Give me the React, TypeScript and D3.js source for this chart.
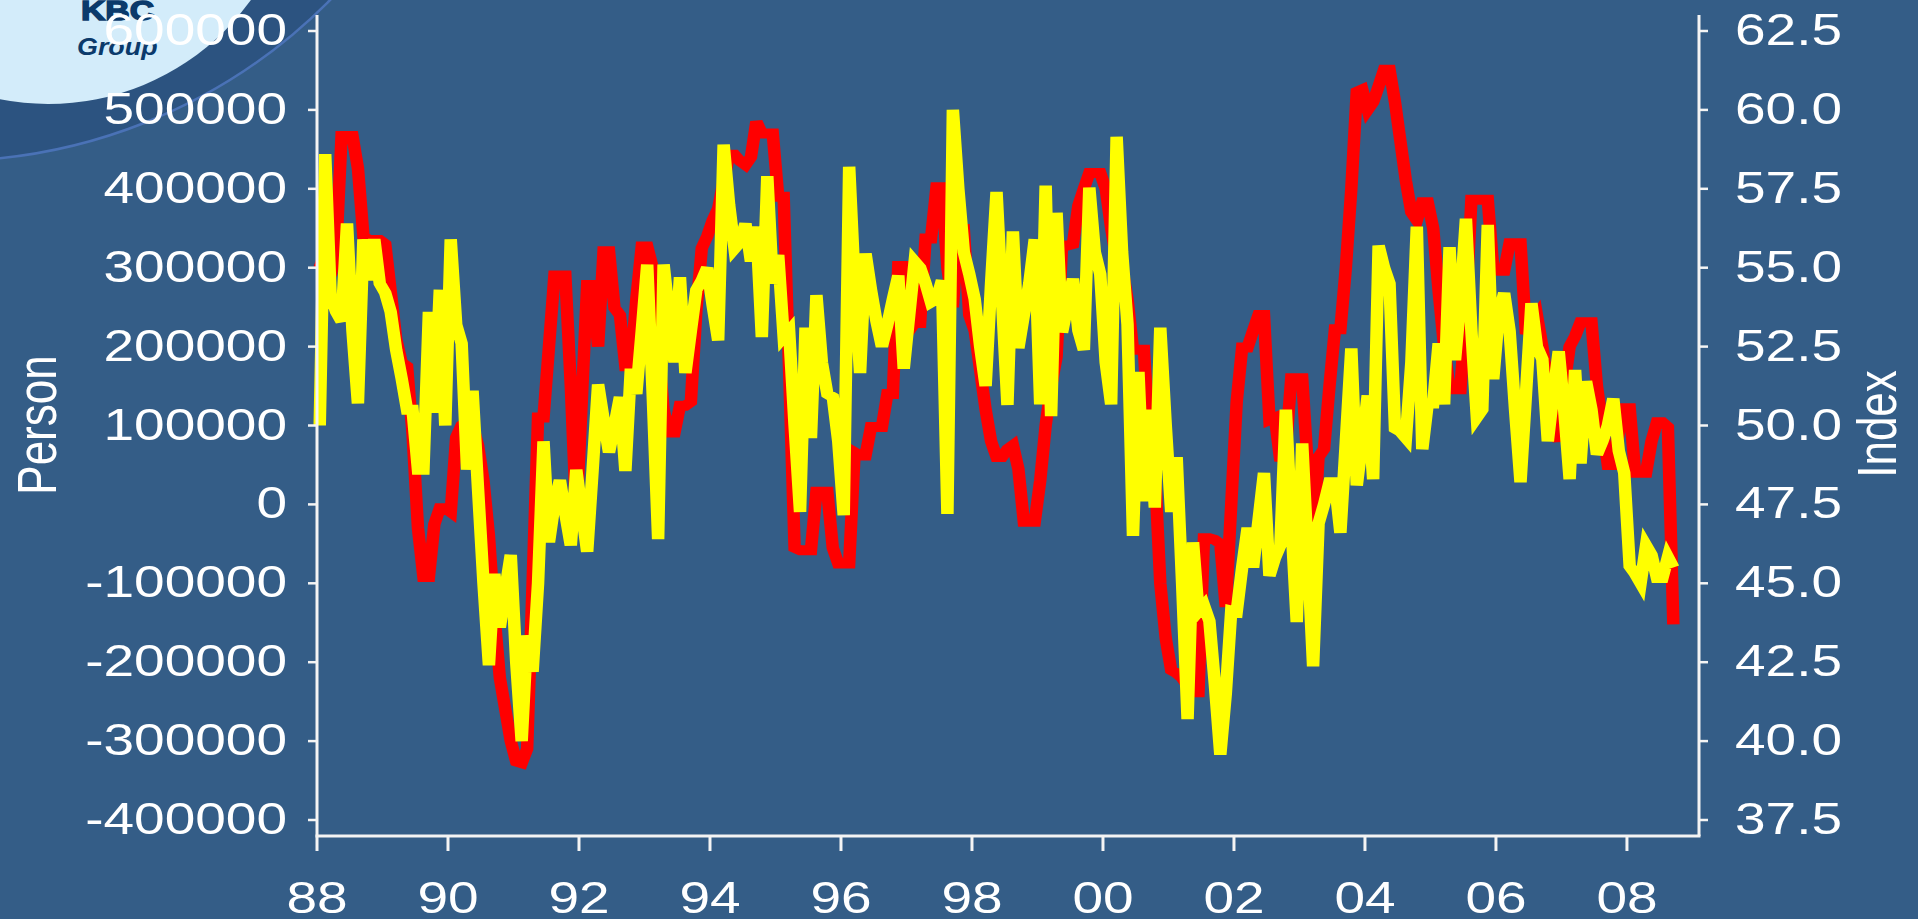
import React from 'react';
import * as d3 from 'd3';

const W = 1918;
const H = 919;
const SX = 1.25; // horizontal stretch of the original picture

// Monthly change in payrolls (thousand persons), Jan 1988 .. Sep 2008
const payrollsK = [
  300, 320, 290, 320, 467, 467, 467, 426, 340, 335, 335, 335,
  330, 270, 210, 180, 175, 90, -30, -92, -92, -25, -5, -5,
  -10, 85, 100, 105, 100, 75, 30, -40, -140, -220, -260, -300,
  -326, -328, -310, -100, 110, 110, 200, 290, 290, 290, 150, -15,
  130, 278, 278, 200, 321, 321, 249, 240, 175, 175, 260, 327,
  327, 300, 200, 120, 91, 91, 125, 125, 130, 245, 325, 340,
  360, 375, 410, 443, 443, 435, 430, 440, 485, 470, 470, 470,
  390, 390, 170, -55, -58, -58, -58, 16, 16, 16, -55, -75,
  -75, -75, 66, 62, 62, 98, 98, 98, 140, 140, 302, 302,
  220, 230, 230, 337, 337, 402, 402, 300, 250, 349, 349, 240,
  220, 170, 120, 80, 60, 60, 70, 75, 45, -22, -22, -22,
  30, 100, 150, 187, 328, 328, 330, 379, 400, 420, 420, 420,
  400, 350, 310, 300, 260, 196, 196, 196, 80, 45, -100, -170,
  -210, -214, -220, -230, -238, -238, -43, -43, -45, -50, -130, 0,
  130, 199, 199, 220, 240, 240, 107, 110, 55, 70, 160, 160,
  160, 50, -49, 60, 70, 150, 222, 222, 300, 400, 523, 526,
  500, 510, 530, 551, 551, 510, 460, 410, 370, 360, 383, 383,
  350, 270, 200, 146, 146, 146, 250, 386, 386, 386, 386, 300,
  296, 296, 331, 331, 331, 216, 230, 240, 200, 150, 100, 80,
  150, 200, 213, 231, 231, 231, 150, 100, 50, 50, 90, 122,
  122, 40, 40, 40, 80, 104, 104, 98, -152,
];

// Index (right axis), Jan 1988 .. Sep 2008
const indexValues = [
  50.0, 58.6, 54.1, 53.6, 53.3, 56.4, 53.0, 50.7, 55.9, 54.6, 55.9, 54.5,
  54.2, 53.6, 52.4, 51.5, 50.5, 50.5, 48.6, 48.6, 53.6, 50.4, 54.3, 50.0,
  55.9, 53.2, 52.6, 48.6, 51.1, 48.0, 45.0, 42.4, 45.3, 43.6, 44.8, 45.9,
  42.5, 40.0, 43.35, 42.2, 45.0, 49.5, 46.3, 47.5, 48.27, 47.2, 46.2, 48.6,
  47.3, 46.0, 48.6, 51.3, 50.2, 49.15, 50.0, 50.9, 48.56, 51.8, 51.0, 53.0,
  55.1, 51.0, 46.4, 55.1, 53.5, 52.0, 54.7, 51.66, 53.0, 54.3, 54.6, 55.0,
  53.8, 52.7, 58.9, 57.0, 55.6, 55.8, 56.4, 55.2, 56.3, 52.8, 57.9, 54.5,
  55.4, 52.8, 53.0, 50.0, 47.26, 53.1, 49.6, 54.13, 52.0, 51.0, 50.9, 49.5,
  47.16, 58.2, 54.5, 51.66, 55.45, 54.3, 53.3, 52.5, 53.2, 54.0, 54.75, 51.8,
  53.5, 55.2, 55.0, 54.5, 53.9, 54.0, 54.6, 47.2, 60.0, 57.5, 55.5, 54.8,
  54.0, 52.5, 51.25, 54.5, 57.4, 54.0, 50.65, 56.15, 52.45, 53.5, 54.5, 55.9,
  50.67, 57.6, 50.3, 56.74, 52.95, 53.8, 54.65, 53.0, 52.4, 57.54, 55.5, 54.8,
  52.0, 50.67, 59.15, 55.5, 53.2, 46.5, 51.7, 47.6, 50.5, 47.4, 53.1, 50.0,
  47.26, 49.0, 45.0, 40.7, 46.3, 44.1, 44.3, 43.8, 41.8, 39.57, 41.5, 44.14,
  44.1, 45.5, 46.76, 45.5, 47.0, 48.5, 45.24, 45.8, 46.2, 50.5, 47.0, 43.77,
  49.43, 46.0, 42.37, 46.9, 47.5, 48.2, 48.2, 46.6, 49.5, 52.44, 48.1, 49.5,
  50.95, 48.3, 55.7, 55.0, 54.5, 49.9, 49.8, 49.6, 52.0, 56.3, 49.25, 50.7,
  50.7, 52.6, 50.67, 55.65, 52.07, 54.0, 56.55, 53.0, 50.25, 50.5, 56.36, 51.47,
  53.5, 54.2, 53.0, 50.5, 48.2, 51.0, 53.87, 52.5, 52.1, 49.5, 51.0, 52.35,
  50.5, 48.3, 51.76, 48.8, 51.4, 50.5, 49.08, 49.5, 50.0, 50.85, 49.2, 48.5,
  45.54, 45.3, 45.0, 46.2, 45.9, 45.17, 45.17, 45.83, 45.5,
];

const leftTicks = [-400000, -300000, -200000, -100000, 0, 100000, 200000, 300000, 400000, 500000, 600000];
const rightTicks = [37.5, 40, 42.5, 45, 47.5, 50, 52.5, 55, 57.5, 60, 62.5];
const yearTickLabels = ['88', '90', '92', '94', '96', '98', '00', '02', '04', '06', '08'];

const FONT = "'Liberation Sans', Arial, Helvetica, sans-serif";

function Label(props: { x: number; y: number; anchor: string; text: string; size?: number; rotate?: number }) {
  const { x, y, anchor, text, size = 44, rotate = 0 } = props;
  return (
    <text
      transform={`translate(${x},${y}) scale(${SX},1)${rotate ? ` rotate(${rotate})` : ''}`}
      textAnchor={anchor}
      fontSize={size}
      fontFamily={FONT}
      fill="#ffffff"
    >
      {text}
    </text>
  );
}

export default function App() {
  const x = d3.scaleLinear().domain([0, 253.2]).range([317, 1699]);
  const yL = d3.scaleLinear().domain([-400000, 600000]).range([820, 31]);
  const yR = d3.scaleLinear().domain([37.5, 62.5]).range([820, 31]);

  const redPath = d3
    .line<number>()
    .x((_, i) => x(i + 0.5) / SX)
    .y((d) => yL(d * 1000))(payrollsK) as string;
  const yellowPath = d3
    .line<number>()
    .x((_, i) => x(i + 0.5) / SX)
    .y((d) => yR(d))(indexValues) as string;

  const axisColor = '#f4f4f4';
  const left = 317;
  const right = 1699;
  const bottom = 836;
  const top = 15;

  return (
    <svg
      width={W}
      height={H}
      viewBox={`0 0 ${W} ${H}`}
      style={{ position: 'absolute', left: 0, top: 0, display: 'block' }}
    >
      <rect x={0} y={0} width={W} height={H} fill="#345d87" />
      {/* corner decoration */}
      <circle cx={-55} cy={-380} r={541} fill="#2c5380" />
      <circle cx={-55} cy={-380} r={541} fill="none" stroke="#4a72b6" strokeWidth={2.5} />
      <circle cx={48} cy={-146} r={250} fill="#d3ecfa" />
      <text
        transform={`translate(81,20) scale(${SX},1)`}
        fontSize={27}
        fontWeight={700}
        fontFamily={FONT}
        fill="#0b3a6b"
        stroke="#0b3a6b"
        strokeWidth={1.4}
      >
        KBC
      </text>
      <text
        transform={`translate(77,55) scale(1.12,1)`}
        fontSize={24}
        fontWeight={700}
        fontStyle="italic"
        fontFamily={FONT}
        fill="#0b3a6b"
      >
        Group
      </text>

      {/* data */}
      <g transform={`scale(${SX},1)`}>
        <path d={redPath} fill="none" stroke="#ff0000" strokeWidth={10} />
        <path d={yellowPath} fill="none" stroke="#ffff00" strokeWidth={10} />
      </g>

      {/* axes */}
      <line x1={left} y1={top} x2={left} y2={bottom} stroke={axisColor} strokeWidth={3} />
      <line x1={right} y1={top} x2={right} y2={bottom} stroke={axisColor} strokeWidth={3} />
      <line x1={left - 1.5} y1={bottom} x2={right + 1.5} y2={bottom} stroke={axisColor} strokeWidth={3} />

      {leftTicks.map((v) => (
        <g key={`l${v}`}>
          <line x1={left - 9} x2={left} y1={yL(v)} y2={yL(v)} stroke={axisColor} strokeWidth={2.5} />
          <Label x={287} y={yL(v) + 14} anchor="end" text={String(v)} />
        </g>
      ))}
      {rightTicks.map((v) => (
        <g key={`r${v}`}>
          <line x1={right} x2={right + 9} y1={yR(v)} y2={yR(v)} stroke={axisColor} strokeWidth={2.5} />
          <Label x={1735} y={yR(v) + 14} anchor="start" text={v.toFixed(1)} />
        </g>
      ))}
      {yearTickLabels.map((t, i) => (
        <g key={`b${t}`}>
          <line x1={x(i * 24)} x2={x(i * 24)} y1={bottom} y2={bottom + 15} stroke={axisColor} strokeWidth={3} />
          <Label x={x(i * 24)} y={913} anchor="middle" text={t} />
        </g>
      ))}

      <Label x={56} y={425} anchor="middle" text="Person" rotate={-90} />
      <Label x={1896} y={424} anchor="middle" text="Index" rotate={-90} />
    </svg>
  );
}
